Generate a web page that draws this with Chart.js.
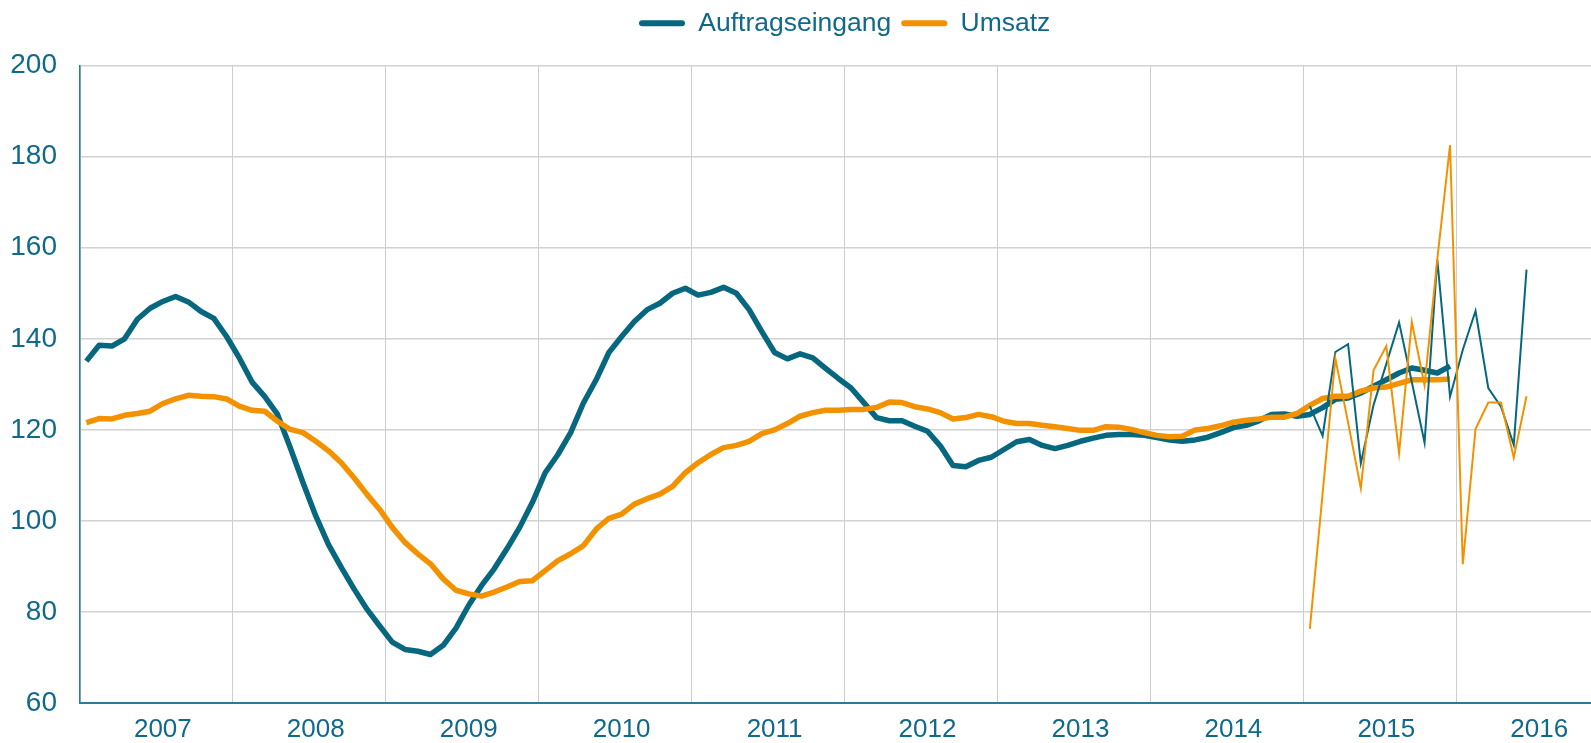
<!DOCTYPE html>
<html lang="de">
<head>
<meta charset="utf-8">
<title>Auftragseingang und Umsatz</title>
<script src="https://cdn.jsdelivr.net/npm/chart.js@4.4.1/dist/chart.umd.min.js"></script>
<style>
  html, body { margin: 0; padding: 0; background: #fff; overflow: hidden; }
  /* chart area runs a bit past the right edge of the window, like the original */
  #wrap { position: relative; width: 1614px; height: 743px; }
</style>
</head>
<body>
<div id="wrap"><canvas id="orderChart"></canvas></div>
<script>
// categories: one label per month, Jan 2007 - Dec 2016
const years = [2007, 2008, 2009, 2010, 2011, 2012, 2013, 2014, 2015, 2016];
const months = ['01', '02', '03', '04', '05', '06', '07', '08', '09', '10', '11', '12'];

// trend lines (thick), Jan 2007 - Dec 2015
const auftragTrend = [
  135.1, 138.6, 138.4, 140.0, 144.3, 146.7, 148.2, 149.3, 148.1, 146.0, 144.5, 140.5,
  135.8, 130.5, 127.3, 123.4, 116.1, 108.4, 101.1, 94.8, 89.8, 85.1, 80.7, 77.0,
  73.4, 71.8, 71.4, 70.7, 72.7, 76.5, 81.5, 85.8, 89.5, 93.9, 98.6, 104.1,
  110.6, 114.6, 119.4, 125.9, 131.0, 137.0, 140.5, 143.8, 146.4, 147.8, 150.0, 151.1,
  149.6, 150.2, 151.3, 150.0, 146.4, 141.6, 137.0, 135.6, 136.7, 135.8, 133.5, 131.3,
  129.2, 126.0, 122.7, 122.0, 122.0, 120.8, 119.7, 116.5, 112.2, 111.9, 113.3, 114.0,
  115.7, 117.4, 117.9, 116.6, 115.9, 116.6, 117.5, 118.2, 118.8, 119.0, 119.0, 118.8,
  118.3, 117.8, 117.5, 117.8, 118.4, 119.4, 120.5, 121.0, 122.0, 123.4, 123.5, 123.0,
  123.4, 124.9, 126.7, 127.0, 128.1, 129.6, 131.0, 132.5, 133.6, 133.1, 132.5, 134.0
];
const umsatzTrend = [
  121.6, 122.5, 122.4, 123.2, 123.6, 124.1, 125.8, 126.8, 127.6, 127.4, 127.3, 126.8,
  125.2, 124.3, 124.1, 121.9, 120.1, 119.4, 117.5, 115.4, 112.8, 109.5, 105.9, 102.6,
  98.6, 95.3, 92.8, 90.6, 87.3, 84.8, 84.0, 83.5, 84.4, 85.5, 86.7, 86.9,
  89.1, 91.3, 92.8, 94.6, 98.2, 100.6, 101.5, 103.7, 104.9, 105.9, 107.6, 110.6,
  112.8, 114.6, 116.1, 116.6, 117.5, 119.2, 120.0, 121.4, 123.0, 123.8, 124.3, 124.3,
  124.5, 124.5, 124.9, 126.1, 126.0, 125.1, 124.6, 123.8, 122.4, 122.7, 123.4, 122.9,
  121.9, 121.4, 121.4, 121.0, 120.7, 120.3, 119.9, 119.9, 120.7, 120.6, 120.1, 119.4,
  118.8, 118.5, 118.6, 120.0, 120.3, 120.9, 121.7, 122.1, 122.4, 122.8, 122.8, 123.6,
  125.4, 126.9, 127.4, 127.4, 128.5, 129.2, 129.4, 130.2, 131.0, 131.0, 131.0, 131.2
];

// monthly values (thin), Jan 2015 - Jun 2016
const monthlyStart = 96;
const auftragMonthly = [
  125.2, 118.7, 137.1, 138.8, 112.7, 125.5, 134.5, 143.6, 130.5, 117.2, 157.4, 127.3,
  137.6, 146.1, 129.2, 125.1, 116.7, 155.2
];
const umsatzMonthly = [
  76.3, 106.0, 135.7, 121.6, 107.2, 133.1, 138.4, 114.9, 143.7, 129.8, 157.5, 182.5,
  90.5, 120.2, 126.0, 126.0, 113.9, 127.4
];

const yTicks = [60, 80, 100, 120, 140, 160, 180, 200];

const TEAL = '#07677f';
const ORANGE = '#f39200';
const TEXT = '#11698a';
const FONT = "'Liberation Sans', Arial, sans-serif";

document.addEventListener('DOMContentLoaded', function() {
  const labels = [];
  years.forEach(y => months.forEach(m => labels.push(y + '-' + m)));

  const padMonthly = vals => labels.map((_, i) =>
    i >= monthlyStart && i < monthlyStart + vals.length ? vals[i - monthlyStart] : null);

  // extra room between legend and plot
  const legendSpacer = {
    id: 'legendSpacer',
    beforeInit(chart) {
      const fit = chart.legend.fit;
      chart.legend.fit = function() {
        fit.call(this);
        this.height += 19;
      };
    }
  };

  const ctx = document.getElementById('orderChart');

  new Chart(ctx, {
    type: 'line',
    data: {
      labels: labels,
      datasets: [
        {
          label: 'Auftragseingang',
          data: auftragTrend,
          borderColor: TEAL,
          backgroundColor: TEAL,
          borderWidth: 5.5,
          pointRadius: 0,
          borderJoinStyle: 'round',
          order: 3
        },
        {
          label: 'Umsatz',
          data: umsatzTrend,
          borderColor: ORANGE,
          backgroundColor: ORANGE,
          borderWidth: 5.5,
          pointRadius: 0,
          borderJoinStyle: 'round',
          order: 2
        },
        {
          label: 'Auftragseingang monatlich',
          data: padMonthly(auftragMonthly),
          borderColor: TEAL,
          borderWidth: 2,
          pointRadius: 0,
          order: 1
        },
        {
          label: 'Umsatz monatlich',
          data: padMonthly(umsatzMonthly),
          borderColor: ORANGE,
          borderWidth: 2,
          pointRadius: 0,
          order: 0
        }
      ]
    },
    options: {
      responsive: true,
      maintainAspectRatio: false,
      animation: false,
      layout: { padding: 0 },
      plugins: {
        tooltip: { enabled: false },
        legend: {
          position: 'top',
          fullSize: false,
          labels: {
            color: TEXT,
            font: { family: FONT, size: 26.5 },
            boxWidth: 46,
            boxHeight: 6,
            padding: 10,
            useBorderRadius: true,
            borderRadius: 3,
            sort: (a, b) => a.datasetIndex - b.datasetIndex,
            filter: item => item.datasetIndex < 2,
            generateLabels: chart =>
              Chart.defaults.plugins.legend.labels.generateLabels(chart)
                .map(item => Object.assign(item, { lineWidth: 0 }))
          }
        }
      },
      scales: {
        x: {
          type: 'category',
          offset: true,
          grid: {
            offset: true,
            drawTicks: false,
            lineWidth: 1,
            color: c => (c.index % 12 === 0 ? '#cdcdcd' : 'rgba(0,0,0,0)')
          },
          border: { color: '#2a7c93', width: 2 },
          ticks: {
            autoSkip: false,
            maxRotation: 0,
            minRotation: 0,
            padding: 11,
            color: TEXT,
            font: { family: FONT, size: 26 },
            callback: function(value, index) {
              return index % 12 === 6 ? String(years[Math.floor(index / 12)]) : '';
            }
          },
          afterFit: scale => { scale.height = 38; }
        },
        y: {
          min: yTicks[0],
          max: yTicks[yTicks.length - 1],
          afterBuildTicks: scale => { scale.ticks = yTicks.map(v => ({ value: v })); },
          grid: { drawTicks: false, color: '#d2d2d2', lineWidth: 1.5 },
          border: { color: '#2a7c93', width: 1.5 },
          ticks: {
            padding: 23,
            color: TEXT,
            font: { family: FONT, size: 28 }
          },
          afterFit: scale => { scale.width = 80; }
        }
      }
    },
    plugins: [legendSpacer]
  });
});
</script>
</body>
</html>
